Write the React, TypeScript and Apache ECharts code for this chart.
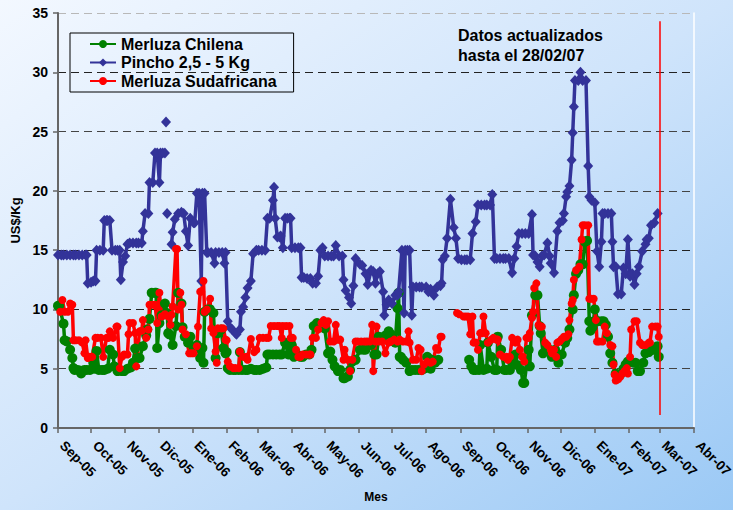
import React, { useEffect, useRef } from 'react';
import * as echarts from 'echarts';

const FONT = 'Arial, "Liberation Sans", Helvetica, sans-serif';

const START_DATE = '2005-09-01';
const END_DATE = '2007-04-01';
const MARKER_DATE = '2007-03-01';
const MONTH_NAMES = ['Ene', 'Feb', 'Mar', 'Abr', 'May', 'Jun', 'Jul', 'Ago', 'Sep', 'Oct', 'Nov', 'Dic'];
const SERIES_NAMES = ['Merluza Chilena', 'Pincho 2,5 - 5 Kg', 'Merluza Sudafricana'];
const ANNOTATION = 'Datos actualizados\nhasta el 28/02/07';

type Pt = [string, number | string];

const chilena: Pt[] = [
  ['2005-09-01', 10.3], ['2005-09-02', 10.3], ['2005-09-06', 8.8], ['2005-09-07', 7.4], ['2005-09-09', 7.3], ['2005-09-12', 6.6], ['2005-09-14', 5.9], ['2005-09-15', 5.05], ['2005-09-16', 4.9], ['2005-09-19', 4.9], ['2005-09-22', 4.6], ['2005-09-25', 4.9], ['2005-09-27', 4.9], ['2005-09-30', 4.9],
  ['2005-10-03', 5.5], ['2005-10-04', 5.0], ['2005-10-06', 6.5], ['2005-10-08', 4.9], ['2005-10-11', 4.9], ['2005-10-13', 4.9], ['2005-10-16', 5.0], ['2005-10-18', 6.6], ['2005-10-21', 6.2], ['2005-10-22', 5.2], ['2005-10-25', 4.8], ['2005-10-29', 4.8], ['2005-10-31', 4.8],
  ['2005-11-03', 5.0], ['2005-11-06', 5.1], ['2005-11-08', 5.5], ['2005-11-10', 6.7], ['2005-11-12', 5.9], ['2005-11-14', 5.9], ['2005-11-17', 6.9], ['2005-11-20', 7.8], ['2005-11-21', 8.3], ['2005-11-23', 9.2], ['2005-11-25', 11.4], ['2005-11-28', 11.4], ['2005-11-29', 11.4], ['2005-11-30', 6.75],
  ['2005-12-02', 8.85], ['2005-12-04', 9.5], ['2005-12-07', 10.5], ['2005-12-09', 9.7], ['2005-12-10', 8.0], ['2005-12-11', 7.9], ['2005-12-14', 7.0], ['2005-12-17', 8.6], ['2005-12-19', 11.4], ['2005-12-22', 10.5], ['2005-12-23', 8.5], ['2005-12-25', 7.7], ['2005-12-28', 7.2], ['2005-12-30', 7.7],
  ['2006-01-02', 6.6], ['2006-01-05', 7.0], ['2006-01-08', 5.9], ['2006-01-10', 6.75], ['2006-01-11', 5.5], ['2006-01-12', 9.8], ['2006-01-15', 10.0], ['2006-01-17', 10.0], ['2006-01-20', 9.7], ['2006-01-22', 5.9], ['2006-01-24', 8.0], ['2006-01-27', 8.3], ['2006-01-29', 6.75], ['2006-01-31', 6.3],
  ['2006-02-01', 6.4], ['2006-02-02', 5.05], ['2006-02-04', 4.9], ['2006-02-07', 4.9], ['2006-02-09', 4.9], ['2006-02-12', 4.9], ['2006-02-13', 6.4], ['2006-02-15', 4.9], ['2006-02-18', 4.9], ['2006-02-20', 4.9], ['2006-02-23', 5.0], ['2006-02-26', 4.9], ['2006-02-28', 4.9],
  ['2006-03-03', 4.9], ['2006-03-06', 5.0], ['2006-03-09', 5.1], ['2006-03-10', 6.2], ['2006-03-12', 6.2], ['2006-03-15', 6.2], ['2006-03-18', 6.2], ['2006-03-21', 6.2], ['2006-03-23', 6.2], ['2006-03-26', 7.2], ['2006-03-29', 6.2], ['2006-03-31', 7.0],
  ['2006-04-01', 7.0], ['2006-04-03', 6.0], ['2006-04-06', 6.2], ['2006-04-09', 6.0], ['2006-04-11', 6.0], ['2006-04-14', 6.2], ['2006-04-17', 6.2], ['2006-04-19', 6.6], ['2006-04-21', 8.6], ['2006-04-22', 8.6], ['2006-04-24', 8.85], ['2006-04-27', 8.7], ['2006-04-29', 8.5],
  ['2006-05-01', 8.4], ['2006-05-04', 6.3], ['2006-05-06', 6.45], ['2006-05-08', 5.75], ['2006-05-10', 5.2], ['2006-05-13', 4.8], ['2006-05-15', 4.9], ['2006-05-18', 4.2], ['2006-05-19', 4.2], ['2006-05-22', 4.35], ['2006-05-24', 4.9], ['2006-05-26', 5.6], ['2006-05-29', 5.75],
  ['2006-06-02', 6.6], ['2006-06-05', 6.6], ['2006-06-07', 6.6], ['2006-06-09', 7.2], ['2006-06-12', 7.0], ['2006-06-15', 6.2], ['2006-06-17', 6.2], ['2006-06-19', 7.7], ['2006-06-22', 7.6], ['2006-06-25', 7.8], ['2006-06-28', 8.15], ['2006-06-30', 7.9],
  ['2006-07-04', 7.2], ['2006-07-06', 10.1], ['2006-07-07', 11.4], ['2006-07-08', 6.0], ['2006-07-09', 6.0], ['2006-07-11', 5.75], ['2006-07-14', 5.5], ['2006-07-17', 4.8], ['2006-07-19', 4.9], ['2006-07-22', 4.9], ['2006-07-25', 4.9], ['2006-07-28', 4.9], ['2006-07-30', 5.0],
  ['2006-08-02', 6.0], ['2006-08-05', 5.0], ['2006-08-06', 5.75], ['2006-08-09', 5.5], ['2006-08-12', 5.75], ['2006-08-12', '-'],
  ['2006-09-09', 5.75], ['2006-09-11', 5.2], ['2006-09-13', 4.9], ['2006-09-15', 4.9], ['2006-09-18', 4.9], ['2006-09-19', 7.0], ['2006-09-22', 4.9], ['2006-09-25', 5.0], ['2006-09-26', 7.2], ['2006-09-29', 6.0],
  ['2006-10-02', 4.9], ['2006-10-04', 4.9], ['2006-10-05', 7.7], ['2006-10-08', 6.6], ['2006-10-11', 4.9], ['2006-10-13', 4.9], ['2006-10-16', 4.9], ['2006-10-18', 5.5], ['2006-10-21', 6.2], ['2006-10-23', 5.3], ['2006-10-26', 4.9], ['2006-10-28', 3.8], ['2006-10-29', 3.8],
  ['2006-11-02', 6.6], ['2006-11-03', 5.2], ['2006-11-05', 9.5], ['2006-11-08', 11.2], ['2006-11-10', 11.2], ['2006-11-12', 8.6], ['2006-11-13', 8.0], ['2006-11-15', 6.3], ['2006-11-18', 6.6], ['2006-11-21', 6.6], ['2006-11-23', 6.0], ['2006-11-26', 6.6], ['2006-11-29', 5.5],
  ['2006-12-02', 6.2], ['2006-12-05', 7.2], ['2006-12-07', 7.6], ['2006-12-09', 8.3], ['2006-12-12', 10.0], ['2006-12-13', 11.2], ['2006-12-15', 13.0], ['2006-12-17', 13.3], ['2006-12-19', 13.8], ['2006-12-21', 13.8], ['2006-12-23', 15.7], ['2006-12-25', 15.8], ['2006-12-27', 9.0], ['2006-12-28', 8.2], ['2006-12-30', 8.5],
  ['2007-01-01', 10.0], ['2007-01-04', 9.0], ['2007-01-07', 9.0], ['2007-01-09', 9.0], ['2007-01-11', 8.7], ['2007-01-13', 7.7], ['2007-01-15', 6.3], ['2007-01-17', 5.5], ['2007-01-20', 4.6], ['2007-01-22', 4.5], ['2007-01-24', 4.5], ['2007-01-27', 5.0], ['2007-01-29', 5.35], ['2007-01-31', 5.6],
  ['2007-02-02', 5.6], ['2007-02-05', 5.5], ['2007-02-07', 5.5], ['2007-02-09', 4.8], ['2007-02-11', 4.8], ['2007-02-14', 5.5], ['2007-02-16', 6.3], ['2007-02-19', 6.4], ['2007-02-20', 6.6], ['2007-02-23', 6.6], ['2007-02-25', 6.6], ['2007-02-27', 6.9], ['2007-02-28', 6.0],
];

const pincho: Pt[] = [
  ['2005-09-01', 14.6], ['2005-09-04', 14.6], ['2005-09-06', 14.6], ['2005-09-09', 14.6], ['2005-09-12', 14.6], ['2005-09-15', 14.6], ['2005-09-17', 14.6], ['2005-09-20', 14.6], ['2005-09-23', 14.6], ['2005-09-26', 14.6], ['2005-09-27', 14.6],
  ['2005-09-28', 12.2], ['2005-10-01', 12.3], ['2005-10-03', 12.4], ['2005-10-05', 12.4],
  ['2005-10-06', 15.0], ['2005-10-09', 15.0], ['2005-10-12', 15.0], ['2005-10-13', 17.5], ['2005-10-15', 17.5], ['2005-10-16', 17.5], ['2005-10-18', 17.5],
  ['2005-10-20', 15.0], ['2005-10-23', 15.0], ['2005-10-25', 15.0], ['2005-10-27', 15.0], ['2005-10-28', 12.5], ['2005-10-30', 14.0], ['2005-11-01', 14.5],
  ['2005-11-03', 15.5], ['2005-11-05', 15.6], ['2005-11-08', 15.6], ['2005-11-11', 15.6], ['2005-11-13', 15.6], ['2005-11-16', 15.6],
  ['2005-11-17', 16.6], ['2005-11-19', 18.1], ['2005-11-22', 18.1], ['2005-11-23', 20.7], ['2005-11-26', 20.7], ['2005-11-28', 23.2], ['2005-11-30', 23.2], ['2005-12-02', 20.7], ['2005-12-03', 23.2], ['2005-12-05', 23.2], ['2005-12-07', 23.2],
  ['2005-12-07', '-'], ['2005-12-08', 25.8], ['2005-12-08', '-'], ['2005-12-09', 18.1], ['2005-12-09', '-'],
  ['2005-12-13', 15.5], ['2005-12-14', 16.5], ['2005-12-16', 17.6], ['2005-12-19', 18.1], ['2005-12-22', 18.2], ['2005-12-24', 18.1], ['2005-12-26', 16.6], ['2005-12-28', 15.4], ['2005-12-30', 17.7],
  ['2006-01-02', 17.3], ['2006-01-03', 17.3], ['2006-01-05', 19.8], ['2006-01-07', 19.8], ['2006-01-09', 12.4], ['2006-01-10', 19.8], ['2006-01-12', 19.8], ['2006-01-14', 14.8], ['2006-01-15', 14.8], ['2006-01-18', 14.8], ['2006-01-21', 13.9], ['2006-01-22', 14.8], ['2006-01-25', 14.8], ['2006-01-28', 14.8], ['2006-01-30', 13.9], ['2006-01-31', 14.8],
  ['2006-02-02', 9.0], ['2006-02-04', 8.5], ['2006-02-06', 8.3], ['2006-02-09', 8.0], ['2006-02-10', 7.9], ['2006-02-13', 8.3], ['2006-02-14', 9.8], ['2006-02-16', 10.2], ['2006-02-18', 11.0], ['2006-02-20', 11.8], ['2006-02-23', 12.4], ['2006-02-25', 14.7], ['2006-02-28', 15.0],
  ['2006-03-02', 15.0], ['2006-03-05', 15.0], ['2006-03-08', 15.0], ['2006-03-10', 17.7], ['2006-03-12', 17.7], ['2006-03-15', 19.2], ['2006-03-16', 20.3], ['2006-03-17', 17.7], ['2006-03-19', 16.1], ['2006-03-21', 16.1], ['2006-03-22', 16.2], ['2006-03-24', 15.2], ['2006-03-26', 17.7], ['2006-03-28', 17.7], ['2006-03-30', 17.7], ['2006-03-31', 17.7],
  ['2006-04-01', 15.2], ['2006-04-04', 15.2], ['2006-04-07', 15.2], ['2006-04-09', 15.2], ['2006-04-10', 12.7], ['2006-04-12', 12.7], ['2006-04-15', 12.6], ['2006-04-18', 12.6], ['2006-04-20', 12.2], ['2006-04-23', 12.2], ['2006-04-25', 12.8], ['2006-04-27', 15.0], ['2006-04-29', 15.2],
  ['2006-05-01', 14.5], ['2006-05-04', 14.5], ['2006-05-07', 14.5], ['2006-05-09', 14.5], ['2006-05-11', 15.4], ['2006-05-14', 14.5], ['2006-05-17', 14.5], ['2006-05-18', 12.5], ['2006-05-20', 11.6], ['2006-05-23', 11.0], ['2006-05-25', 10.5], ['2006-05-27', 12.0], ['2006-05-29', 14.3],
  ['2006-06-02', 13.8], ['2006-06-04', 13.7], ['2006-06-07', 13.0], ['2006-06-09', 12.1], ['2006-06-12', 13.3], ['2006-06-14', 13.2], ['2006-06-16', 12.2], ['2006-06-18', 13.0], ['2006-06-20', 13.2], ['2006-06-23', 11.5], ['2006-06-24', 9.5], ['2006-06-26', 10.4], ['2006-06-28', 10.8],
  ['2006-07-01', 10.5], ['2006-07-04', 11.2], ['2006-07-06', 11.2], ['2006-07-07', 11.5], ['2006-07-10', 15.0], ['2006-07-12', 9.7], ['2006-07-13', 15.0], ['2006-07-15', 15.0], ['2006-07-17', 15.0], ['2006-07-19', 9.5], ['2006-07-20', 11.9], ['2006-07-23', 11.9], ['2006-07-26', 11.9], ['2006-07-28', 11.9],
  ['2006-08-01', 11.9], ['2006-08-03', 11.5], ['2006-08-05', 11.7], ['2006-08-08', 11.2], ['2006-08-11', 11.9], ['2006-08-14', 12.0], ['2006-08-15', 12.2], ['2006-08-16', 14.2], ['2006-08-18', 14.5], ['2006-08-20', 16.0], ['2006-08-23', 19.3], ['2006-08-26', 16.9], ['2006-08-28', 16.0], ['2006-08-30', 14.3],
  ['2006-09-02', 14.2], ['2006-09-05', 14.2], ['2006-09-07', 14.2], ['2006-09-10', 14.2], ['2006-09-12', 16.4], ['2006-09-15', 17.4], ['2006-09-17', 18.8], ['2006-09-20', 18.8], ['2006-09-23', 18.8], ['2006-09-25', 18.8], ['2006-09-28', 18.8], ['2006-09-30', 19.7],
  ['2006-10-02', 14.3], ['2006-10-04', 14.3], ['2006-10-07', 14.3], ['2006-10-10', 14.3], ['2006-10-12', 14.3], ['2006-10-15', 14.3], ['2006-10-18', 13.1], ['2006-10-20', 14.3], ['2006-10-22', 15.3], ['2006-10-24', 16.4], ['2006-10-27', 16.4], ['2006-10-30', 16.4],
  ['2006-11-02', 16.4], ['2006-11-05', 18.0], ['2006-11-06', 14.6], ['2006-11-08', 14.5], ['2006-11-10', 14.0], ['2006-11-12', 13.6], ['2006-11-14', 14.5], ['2006-11-16', 14.6], ['2006-11-19', 15.6], ['2006-11-21', 14.5], ['2006-11-22', 13.9], ['2006-11-25', 13.1], ['2006-11-28', 16.6], ['2006-11-30', 17.3],
  ['2006-12-03', 17.5], ['2006-12-04', 18.1], ['2006-12-06', 19.5], ['2006-12-07', 19.9], ['2006-12-09', 20.4], ['2006-12-11', 22.6], ['2006-12-12', 24.9], ['2006-12-13', 27.1], ['2006-12-14', 29.3], ['2006-12-17', 29.3], ['2006-12-19', 30.0], ['2006-12-21', 29.3], ['2006-12-24', 29.3], ['2006-12-26', 22.1], ['2006-12-27', 19.5], ['2006-12-29', 19.2],
  ['2007-01-01', 19.0], ['2007-01-03', 14.9], ['2007-01-05', 13.6], ['2007-01-07', 15.7], ['2007-01-08', 18.1], ['2007-01-10', 18.1], ['2007-01-13', 18.1], ['2007-01-16', 18.1], ['2007-01-17', 15.7], ['2007-01-18', 13.6], ['2007-01-20', 13.6], ['2007-01-22', 11.3], ['2007-01-25', 11.3], ['2007-01-27', 13.5], ['2007-01-29', 13.0], ['2007-01-31', 15.9],
  ['2007-02-02', 12.8], ['2007-02-04', 13.0], ['2007-02-06', 12.1], ['2007-02-08', 13.0], ['2007-02-10', 13.6], ['2007-02-13', 14.9], ['2007-02-16', 15.5], ['2007-02-17', 15.9], ['2007-02-19', 16.0], ['2007-02-21', 17.1], ['2007-02-24', 17.3], ['2007-02-27', 18.1],
];

const sudafricana: Pt[] = [
  ['2005-09-03', 9.8], ['2005-09-05', 10.8], ['2005-09-07', 9.8], ['2005-09-10', 9.8], ['2005-09-12', 10.5], ['2005-09-14', 10.4], ['2005-09-15', 7.4], ['2005-09-17', 7.4], ['2005-09-20', 7.4], ['2005-09-23', 7.2], ['2005-09-25', 6.3], ['2005-09-26', 7.4], ['2005-09-28', 5.9], ['2005-09-30', 6.0],
  ['2005-10-02', 6.0], ['2005-10-05', 7.6], ['2005-10-07', 7.6], ['2005-10-10', 7.6], ['2005-10-12', 6.0], ['2005-10-15', 7.6], ['2005-10-17', 7.6], ['2005-10-18', 8.15], ['2005-10-21', 7.6], ['2005-10-24', 8.55], ['2005-10-25', 8.55], ['2005-10-27', 5.05], ['2005-10-29', 6.0], ['2005-10-31', 6.2],
  ['2005-11-03', 6.2], ['2005-11-04', 7.9], ['2005-11-05', 8.85], ['2005-11-08', 8.85], ['2005-11-10', 8.0], ['2005-11-11', 5.2], ['2005-11-14', 8.15], ['2005-11-16', 8.2], ['2005-11-17', 9.1], ['2005-11-20', 7.6], ['2005-11-22', 8.3], ['2005-11-23', 10.4], ['2005-11-26', 10.4], ['2005-11-28', 10.4], ['2005-11-30', 8.85],
  ['2005-12-02', 11.4], ['2005-12-04', 9.4], ['2005-12-07', 9.6], ['2005-12-10', 9.4], ['2005-12-12', 8.7], ['2005-12-13', 9.55], ['2005-12-14', 10.25], ['2005-12-17', 15.1], ['2005-12-18', 15.1], ['2005-12-19', 10.0], ['2005-12-21', 11.4], ['2005-12-22', 10.4], ['2005-12-23', 8.3], ['2005-12-26', 7.9], ['2005-12-29', 6.3], ['2005-12-31', 6.3],
  ['2006-01-02', 6.3], ['2006-01-05', 6.9], ['2006-01-06', 8.55], ['2006-01-08', 11.5], ['2006-01-09', 11.5], ['2006-01-11', 12.4], ['2006-01-12', 9.8], ['2006-01-14', 10.0], ['2006-01-17', 10.9], ['2006-01-18', 8.4], ['2006-01-20', 8.0], ['2006-01-22', 6.45], ['2006-01-23', 5.5], ['2006-01-24', 8.4], ['2006-01-27', 8.4], ['2006-01-29', 8.4], ['2006-01-31', 7.45],
  ['2006-02-01', 7.4], ['2006-02-02', 5.6], ['2006-02-04', 5.2], ['2006-02-07', 5.05], ['2006-02-09', 5.05], ['2006-02-12', 5.05], ['2006-02-13', 6.45], ['2006-02-16', 6.0], ['2006-02-19', 6.0], ['2006-02-20', 5.75], ['2006-02-23', 7.5], ['2006-02-26', 6.4], ['2006-02-28', 6.6],
  ['2006-03-03', 7.6], ['2006-03-06', 7.6], ['2006-03-09', 7.6], ['2006-03-11', 7.6], ['2006-03-13', 8.6], ['2006-03-16', 8.6], ['2006-03-19', 8.6], ['2006-03-21', 8.6], ['2006-03-23', 7.6], ['2006-03-24', 8.6], ['2006-03-27', 8.6], ['2006-03-30', 8.6], ['2006-03-31', 7.6],
  ['2006-04-02', 7.6], ['2006-04-05', 6.6], ['2006-04-07', 6.0], ['2006-04-09', 6.0], ['2006-04-11', 6.2], ['2006-04-14', 6.2], ['2006-04-17', 6.2], ['2006-04-18', 6.2], ['2006-04-20', 7.6], ['2006-04-23', 7.6], ['2006-04-25', 8.3], ['2006-04-28', 8.85], ['2006-04-30', 9.1],
  ['2006-05-02', 8.7], ['2006-05-04', 9.0], ['2006-05-06', 7.3], ['2006-05-09', 7.3], ['2006-05-11', 8.7], ['2006-05-13', 7.45], ['2006-05-15', 7.45], ['2006-05-18', 5.75], ['2006-05-19', 6.6], ['2006-05-22', 5.75], ['2006-05-24', 4.8], ['2006-05-26', 5.75], ['2006-05-29', 7.3], ['2006-05-31', 7.3],
  ['2006-06-03', 7.3], ['2006-06-06', 7.3], ['2006-06-08', 7.3], ['2006-06-11', 7.3], ['2006-06-13', 8.7], ['2006-06-14', 4.8], ['2006-06-16', 7.3], ['2006-06-17', 8.55], ['2006-06-19', 7.3], ['2006-06-22', 7.3], ['2006-06-25', 6.3], ['2006-06-28', 7.2], ['2006-06-30', 7.3],
  ['2006-07-03', 7.45], ['2006-07-06', 7.3], ['2006-07-08', 7.45], ['2006-07-11', 7.3], ['2006-07-14', 7.3], ['2006-07-16', 8.15], ['2006-07-17', 7.2], ['2006-07-20', 5.75], ['2006-07-23', 5.75], ['2006-07-25', 6.75], ['2006-07-27', 6.6], ['2006-07-28', 4.8], ['2006-07-30', 5.35],
  ['2006-08-02', 5.6], ['2006-08-05', 5.5], ['2006-08-07', 5.6], ['2006-08-10', 6.75], ['2006-08-12', 6.6], ['2006-08-14', 7.7], ['2006-08-15', 7.7], ['2006-08-15', '-'],
  ['2006-08-29', 9.7], ['2006-08-31', 9.6],
  ['2006-09-04', 9.4], ['2006-09-06', 9.4], ['2006-09-08', 9.4], ['2006-09-10', 7.9], ['2006-09-12', 9.4], ['2006-09-13', 7.2], ['2006-09-15', 7.2], ['2006-09-17', 6.6], ['2006-09-19', 8.0], ['2006-09-21', 8.0], ['2006-09-22', 9.4], ['2006-09-24', 8.0], ['2006-09-26', 7.2], ['2006-09-29', 7.45],
  ['2006-10-01', 7.6], ['2006-10-04', 7.45], ['2006-10-05', 7.45], ['2006-10-07', 6.2], ['2006-10-10', 6.0], ['2006-10-13', 6.0], ['2006-10-14', 5.75], ['2006-10-16', 6.0], ['2006-10-18', 7.6], ['2006-10-21', 7.2], ['2006-10-23', 7.45], ['2006-10-25', 6.6], ['2006-10-27', 6.0], ['2006-10-29', 5.6], ['2006-10-31', 7.6],
  ['2006-11-02', 7.6], ['2006-11-03', 8.0], ['2006-11-05', 9.3], ['2006-11-06', 9.8], ['2006-11-07', 11.8], ['2006-11-09', 12.2], ['2006-11-11', 8.7], ['2006-11-12', 8.55], ['2006-11-14', 8.55], ['2006-11-17', 7.2], ['2006-11-19', 7.0], ['2006-11-22', 6.6], ['2006-11-23', 6.3], ['2006-11-25', 6.6], ['2006-11-27', 6.0], ['2006-11-28', 7.2], ['2006-11-30', 7.3],
  ['2006-12-02', 7.5], ['2006-12-04', 7.7], ['2006-12-06', 7.7], ['2006-12-08', 7.9], ['2006-12-09', 9.1], ['2006-12-11', 10.5], ['2006-12-12', 10.8], ['2006-12-13', 12.5], ['2006-12-15', 13.3], ['2006-12-18', 13.6], ['2006-12-20', 15.9], ['2006-12-21', 17.1], ['2006-12-23', 17.1], ['2006-12-26', 17.1], ['2006-12-27', 10.9], ['2006-12-29', 10.9], ['2006-12-31', 10.9],
  ['2007-01-02', 9.1], ['2007-01-03', 7.3], ['2007-01-05', 7.3], ['2007-01-08', 7.3], ['2007-01-10', 8.55], ['2007-01-12', 8.0], ['2007-01-15', 7.0], ['2007-01-17', 6.9], ['2007-01-18', 5.35], ['2007-01-19', 4.5], ['2007-01-20', 4.0], ['2007-01-22', 4.1], ['2007-01-24', 4.3], ['2007-01-26', 4.6], ['2007-01-28', 4.8], ['2007-01-30', 5.05], ['2007-01-31', 4.6],
  ['2007-02-02', 6.0], ['2007-02-03', 8.3], ['2007-02-06', 9.0], ['2007-02-08', 9.0], ['2007-02-11', 7.2], ['2007-02-13', 7.0], ['2007-02-16', 7.0], ['2007-02-19', 7.2], ['2007-02-20', 7.2], ['2007-02-22', 8.55], ['2007-02-25', 8.55], ['2007-02-27', 8.55], ['2007-02-28', 7.7],
];

function buildDays(start: string, end: string): string[] {
  const out: string[] = [];
  const d = new Date(start + 'T00:00:00Z');
  const e = new Date(end + 'T00:00:00Z');
  while (d.getTime() <= e.getTime()) {
    out.push(d.toISOString().slice(0, 10));
    d.setUTCDate(d.getUTCDate() + 1);
  }
  return out;
}

const isMonthStart = (_i: number, v: string) => typeof v === 'string' && v.slice(8, 10) === '01';
const monthLabel = (v: string) => MONTH_NAMES[parseInt(v.slice(5, 7), 10) - 1] + '-' + v.slice(2, 4);

export default function App() {
  const ref = useRef<HTMLDivElement>(null);
  useEffect(() => {
    document.body.style.margin = '0';
    const chart = echarts.init(ref.current as HTMLDivElement, undefined, { renderer: 'svg' });
    const days = buildDays(START_DATE, END_DATE);
    const boldText = { fontFamily: FONT, fontWeight: 'bold' as const, color: '#000' };
    chart.setOption({
      animation: false,
      backgroundColor: new echarts.graphic.LinearGradient(0, 0, 1, 1, [
        { offset: 0, color: '#f3f8ff' },
        { offset: 0.5, color: '#cfe4fb' },
        { offset: 1, color: '#9bc9f5' },
      ]),
      textStyle: { fontFamily: FONT },
      title: {
        text: ANNOTATION,
        left: 453,
        top: 20,
        textStyle: { ...boldText, fontSize: 16, lineHeight: 20 },
      },
      legend: {
        orient: 'vertical',
        left: 70,
        top: 33,
        padding: [3, 17, 3, 19],
        itemGap: 2.5,
        itemWidth: 26,
        itemHeight: 10,
        borderColor: '#000',
        borderWidth: 1,
        textStyle: { ...boldText, fontSize: 16 },
        data: SERIES_NAMES,
      },
      grid: { left: 58, right: 39, top: 13, bottom: 82, containLabel: false, outerBoundsMode: 'none' },
      xAxis: {
        type: 'category',
        data: days,
        boundaryGap: false,
        name: 'Mes',
        nameLocation: 'middle',
        nameGap: 63,
        nameTextStyle: { ...boldText, fontSize: 12 },
        axisLine: { show: true, onZero: false, lineStyle: { color: '#666', width: 2 } },
        axisTick: { show: true, interval: isMonthStart, length: 5, lineStyle: { color: '#666', width: 1.5 } },
        axisLabel: {
          interval: isMonthStart,
          rotate: -45,
          formatter: monthLabel,
          margin: 11,
          padding: [0, 0, 0, 6],
          fontSize: 13.5,
          ...boldText,
        },
        splitLine: { show: false },
      },
      yAxis: [
        {
          type: 'value',
          min: 0,
          max: 35,
          interval: 5,
          name: 'US$/Kg',
          nameLocation: 'middle',
          nameGap: 33,
          nameRotate: 90,
          nameTextStyle: { ...boldText, fontSize: 13 },
          axisLine: { show: true, lineStyle: { color: '#666', width: 2 } },
          axisTick: { show: true, length: 5, lineStyle: { color: '#666', width: 1.5 } },
          axisLabel: { margin: 10, fontSize: 14, ...boldText },
          splitLine: {
            show: true,
            lineStyle: {
              color: ['#333', '#444', '#222', '#222', '#444', '#444', '#222', '#b8b8b8'],
              width: 1,
              type: [8, 5],
            },
          },
        },
        {
          type: 'value',
          position: 'right',
          min: 0,
          max: 35,
          interval: 5,
          axisLine: { show: true, lineStyle: { color: '#ffffff', width: 1.5 } },
          axisTick: { show: false },
          axisLabel: { show: false },
          splitLine: { show: false },
        },
      ],
      series: [
        {
          name: SERIES_NAMES[0],
          type: 'line',
          data: chilena,
          showAllSymbol: true,
          symbol: 'circle',
          symbolSize: 10,
          connectNulls: false,
          itemStyle: { color: '#008000' },
          lineStyle: { color: '#008000', width: 3.5 },
        },
        {
          name: SERIES_NAMES[1],
          type: 'line',
          data: pincho,
          showAllSymbol: true,
          symbol: 'diamond',
          symbolSize: [10, 11],
          connectNulls: false,
          itemStyle: { color: '#333399' },
          lineStyle: { color: '#333399', width: 3.5 },
        },
        {
          name: SERIES_NAMES[2],
          type: 'line',
          data: sudafricana,
          showAllSymbol: true,
          symbol: 'circle',
          symbolSize: 8,
          connectNulls: false,
          itemStyle: { color: '#ff0000' },
          lineStyle: { color: '#ff0000', width: 3.5 },
          markLine: {
            silent: true,
            symbol: ['none', 'none'],
            label: { show: false },
            lineStyle: { color: '#ff0000', width: 1.5, type: 'solid' },
            data: [[{ coord: [MARKER_DATE, 1.1] }, { coord: [MARKER_DATE, 34.3] }]],
          },
        },
      ],
    });
    return () => chart.dispose();
  }, []);
  return <div ref={ref} style={{ position: 'absolute', left: 0, top: 0, width: 733, height: 510 }} />;
}
